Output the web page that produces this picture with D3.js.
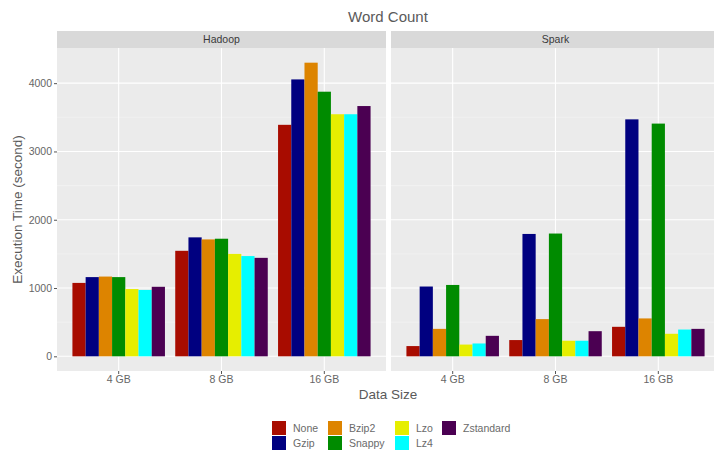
<!DOCTYPE html>
<html>
<head>
<meta charset="utf-8">
<script src="https://cdn.jsdelivr.net/npm/d3@7"></script>
<style>
  html, body { margin: 0; padding: 0; background: #ffffff; }
  svg { display: block; font-family: "Liberation Sans", Arial, sans-serif; }
</style>
</head>
<body>
<div id="chart"></div>
<script>
// Word Count benchmark: execution time by data size and compression codec
const frameworks = ["Hadoop", "Spark"];
const sizes = ["4 GB", "8 GB", "16 GB"];
const codecs = ["None", "Gzip", "Bzip2", "Snappy", "Lzo", "Lz4", "Zstandard"];
const codecColors = ["#a80c00", "#000080", "#dd8400", "#008b00", "#e6ee00", "#00ffff", "#4b0052"];

// seconds, rows = data size, columns = codec
const hadoopTimes = [
  [1075, 1160, 1168, 1160, 985, 972, 1018],
  [1545, 1742, 1712, 1722, 1500, 1468, 1442],
  [3390, 4055, 4300, 3875, 3545, 3545, 3665]
];
const sparkTimes = [
  [150, 1022, 402, 1045, 172, 188, 300],
  [238, 1792, 545, 1798, 228, 228, 368],
  [432, 3470, 555, 3408, 330, 392, 402]
];
const yTicks = [0, 1000, 2000, 3000, 4000];
const yMinor = [500, 1500, 2500, 3500];

const timesByFramework = { Hadoop: hadoopTimes, Spark: sparkTimes };

const W = 714, H = 452;
const svg = d3.select("#chart").append("svg").attr("width", W).attr("height", H);

const panelTop = 48, panelBottom = 371, stripTop = 31;
const panelW = 329;
const panelLefts = [57, 391];

const y = d3.scaleLinear().domain([-215, 4515]).range([panelBottom, panelTop]);

const axisText = "#666666";

frameworks.forEach((fw, i) => {
  const x0 = panelLefts[i];
  const g = svg.append("g");

  // strip
  g.append("rect").attr("x", x0).attr("y", stripTop).attr("width", panelW)
    .attr("height", panelTop - stripTop).attr("fill", "#d9d9d9");
  g.append("text").attr("x", x0 + panelW / 2).attr("y", (stripTop + panelTop) / 2 + 3.8)
    .attr("text-anchor", "middle").attr("font-size", 10.5).attr("fill", "#3a3a3a").text(fw);

  // panel background
  g.append("rect").attr("x", x0).attr("y", panelTop).attr("width", panelW)
    .attr("height", panelBottom - panelTop).attr("fill", "#ebebeb");

  const x = d3.scaleBand().domain(sizes).range([x0, x0 + panelW])
    .paddingInner(0.1).paddingOuter(0.15);
  const xc = d3.scaleBand().domain(codecs).range([0, x.bandwidth()]);

  // grid
  yMinor.forEach(v => g.append("line").attr("x1", x0).attr("x2", x0 + panelW)
    .attr("y1", y(v)).attr("y2", y(v)).attr("stroke", "#f5f5f5").attr("stroke-width", 0.6));
  yTicks.forEach(v => g.append("line").attr("x1", x0).attr("x2", x0 + panelW)
    .attr("y1", y(v)).attr("y2", y(v)).attr("stroke", "#ffffff").attr("stroke-width", 1.1));
  sizes.forEach(s => {
    const cx = x(s) + x.bandwidth() / 2;
    g.append("line").attr("x1", cx).attr("x2", cx).attr("y1", panelTop).attr("y2", panelBottom)
      .attr("stroke", "#ffffff").attr("stroke-width", 1.1);
  });

  // bars
  const data = [];
  timesByFramework[fw].forEach((row, si) => row.forEach((v, ci) =>
    data.push({ size: sizes[si], codec: codecs[ci], value: v, color: codecColors[ci] })));
  g.selectAll("rect.bar").data(data).enter().append("rect").attr("class", "bar")
    .attr("x", d => x(d.size) + xc(d.codec))
    .attr("width", xc.bandwidth())
    .attr("y", d => y(d.value))
    .attr("height", d => y(0) - y(d.value))
    .attr("fill", d => d.color);

  // x axis
  const xAxis = g.append("g").attr("transform", `translate(0,${panelBottom})`)
    .call(d3.axisBottom(x).tickSize(3).tickPadding(2));
  xAxis.select(".domain").remove();
  xAxis.selectAll("line").attr("stroke", "#555555");
  xAxis.selectAll("text").attr("font-size", 10.5).attr("fill", axisText)
    .attr("font-family", "Liberation Sans, Arial, sans-serif");

  if (i === 0) {
    const yAxis = g.append("g").attr("transform", `translate(${x0},0)`)
      .call(d3.axisLeft(y).tickValues(yTicks).tickFormat(d3.format("d")).tickSize(3).tickPadding(2));
    yAxis.select(".domain").remove();
    yAxis.selectAll("line").attr("stroke", "#555555");
    yAxis.selectAll("text").attr("font-size", 10.5).attr("fill", axisText)
      .attr("font-family", "Liberation Sans, Arial, sans-serif");
  }
});

// titles
svg.append("text").attr("x", 388).attr("y", 22).attr("text-anchor", "middle")
  .attr("font-size", 15).attr("fill", "#5a5a5a").text("Word Count");
svg.append("text").attr("x", 388).attr("y", 399).attr("text-anchor", "middle")
  .attr("font-size", 13.5).attr("fill", "#5a5a5a").text("Data Size");
svg.append("text").attr("transform", `translate(22,${(panelTop + panelBottom) / 2}) rotate(-90)`)
  .attr("text-anchor", "middle").attr("font-size", 13.5).attr("fill", "#5a5a5a")
  .text("Execution Time (second)");

// legend: 2 rows, filled column by column
const legendCols = [272, 328, 395, 442];
const legendRows = [421, 436];
const keySize = 14;
const legend = svg.append("g");
codecs.forEach((c, i) => {
  const col = Math.floor(i / 2), row = i % 2;
  const lx = legendCols[col], ly = legendRows[row];
  legend.append("rect").attr("x", lx).attr("y", ly).attr("width", keySize).attr("height", keySize)
    .attr("fill", codecColors[i]);
  legend.append("text").attr("x", lx + keySize + 7).attr("y", ly + keySize / 2 + 3.8)
    .attr("font-size", 10.5).attr("fill", "#6a6a6a").text(c);
});
</script>
</body>
</html>
